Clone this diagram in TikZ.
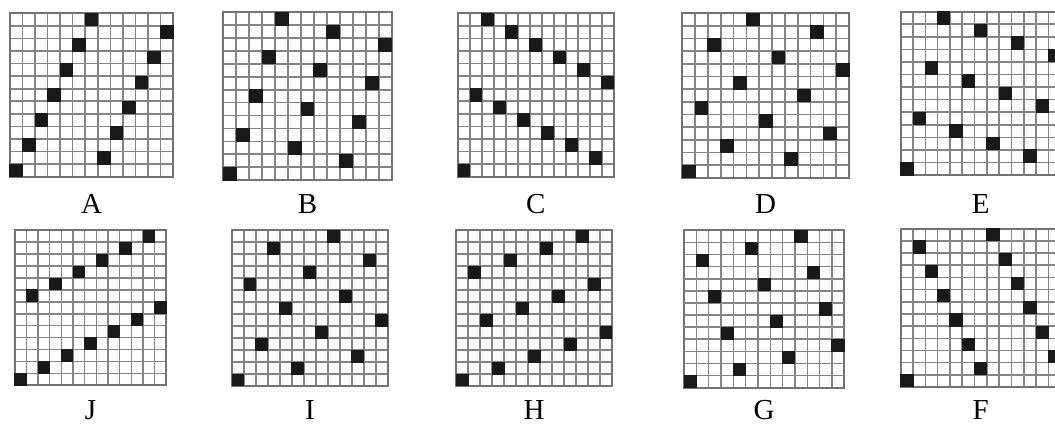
\documentclass[tikz,border=0pt]{standalone}
\usepackage{fontspec}
\setmainfont{Liberation Serif}
\tikzset{
  gridline/.style={draw=black!48, line width=1.6pt},
  gridframe/.style={draw=black!55, line width=1.7pt},
  dotcell/.style={fill=black!90},
  letter/.style={font=\fontsize{29}{34}\selectfont, anchor=base, inner sep=0pt},
}
% \permgrid{name}{x0}{y0}{width}{height}{k}{label}{label baseline}
% 13x13 grid; the row r (counted from the bottom) has its dark cell in column k*r mod 13
\newcommand\permgrid[8]{%
  \begin{scope}[shift={(#2,#3)}, xscale=#4/13, yscale=#5/13]
    \foreach \i in {1,...,12}{
      \draw[gridline] (\i,0) -- (\i,13);
      \draw[gridline] (0,\i) -- (13,\i);
    }
    \draw[gridframe] (0,0) rectangle (13,13);
    \foreach \r in {0,...,12}{
      \pgfmathtruncatemacro\pgcol{mod(#6*\r,13)}
      \fill[dotcell] (\pgcol-0.04,12-\r-0.04) rectangle ++(1.08,1.08);
    }
  \end{scope}
  \node[letter] (lab#1) at ({#2+#4/2},#8) {#7};
}
\begin{document}
\begin{tikzpicture}[x=1pt,y=-1pt]
  \useasboundingbox (0,0) rectangle (1055,424);
  \clip (0,0) rectangle (1055,424);
  \fill[white] (0,0) rectangle (1055,424);
  % top row
  \permgrid{A}{10}{13.3}{163}{163.4}{7}{A}{213}
  \permgrid{B}{223.3}{12.3}{168.4}{167.7}{9}{B}{213}
  \permgrid{C}{458}{13.3}{155.7}{163.4}{11}{C}{213}
  \permgrid{D}{682.3}{13.3}{166.7}{164.4}{8}{D}{213}
  \permgrid{E}{900.7}{11.7}{160}{163.3}{10}{E}{213}
  % bottom row
  \permgrid{J}{14.7}{230.3}{151.6}{155}{2}{J}{419}
  \permgrid{I}{232}{230.3}{155.7}{155.7}{5}{I}{419}
  \permgrid{H}{456.3}{230.3}{155.7}{155.7}{3}{H}{419}
  \permgrid{G}{684}{230.3}{160.3}{157.4}{4}{G}{419}
  \permgrid{F}{900.7}{228.7}{160}{158.3}{6}{F}{419}
\end{tikzpicture}
\end{document}
